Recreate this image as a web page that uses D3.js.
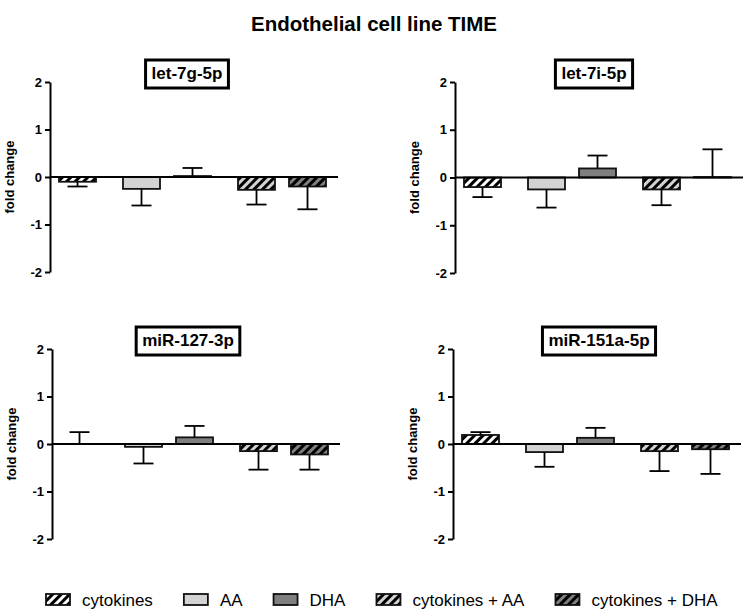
<html>
<head>
<meta charset="utf-8">
<style>
body { margin: 0; background: #fff; }
text { font-family: "Liberation Sans", Arial, sans-serif; }
.axis path, .axis line { stroke: #000; stroke-width: 2px; }
.axis text { font-size: 13px; font-weight: bold; fill: #000; }
</style>
</head>
<body>
<svg width="748" height="610"></svg>
<script src="https://d3js.org/d3.v7.min.js"></script>
<script>

// treatments and how they are grouped along the x axis
var treatments = ["cytokines", "AA", "DHA", "cytokines + AA", "cytokines + DHA"];
var groups = [["cytokines"], ["AA", "DHA"], ["cytokines + AA", "cytokines + DHA"]];
var mirnas = ["let-7g-5p", "let-7i-5p", "miR-127-3p", "miR-151a-5p"];
var yTicks = [-2, -1, 0, 1, 2];

// mean fold change and SEM, one value per treatment
var foldLet7g = [-0.10, -0.25, 0.02, -0.27, -0.20],
    semLet7g  = [0.10, 0.35, 0.17, 0.31, 0.48];
var foldLet7i = [-0.20, -0.25, 0.19, -0.25, 0.01],
    semLet7i  = [0.21, 0.38, 0.27, 0.33, 0.58];
var fold127 = [0.00, -0.06, 0.14, -0.15, -0.22],
    sem127  = [0.25, 0.35, 0.24, 0.39, 0.32];
var fold151a = [0.19, -0.17, 0.13, -0.15, -0.11],
    sem151a  = [0.06, 0.31, 0.21, 0.42, 0.52];

var folds = [foldLet7g, foldLet7i, fold127, fold151a],
    sems = [semLet7g, semLet7i, sem127, sem151a];

var fills = {
  "cytokines": "url(#hatchWhite)",
  "AA": "#d3d3d3",
  "DHA": "#7f7f7f",
  "cytokines + AA": "url(#hatchLight)",
  "cytokines + DHA": "url(#hatchDark)"
};

var svg = d3.select("svg");

// hatch patterns
var defs = svg.append("defs");
[["hatchWhite", "#fff"], ["hatchLight", "#d3d3d3"], ["hatchDark", "#7f7f7f"]].forEach(function(p) {
  var pat = defs.append("pattern")
      .attr("id", p[0])
      .attr("patternUnits", "userSpaceOnUse")
      .attr("width", 6).attr("height", 6)
      .attr("patternTransform", "rotate(45)");
  pat.append("rect").attr("width", 6).attr("height", 6).attr("fill", p[1]);
  pat.append("rect").attr("width", 3).attr("height", 6).attr("fill", "#000");
});

svg.append("text")
    .attr("x", 374).attr("y", 31)
    .attr("text-anchor", "middle")
    .style("font-size", "20.5px").style("font-weight", "bold")
    .text("Endothelial cell line TIME");

// panel placement
var panels = [
  {axisX: 50,  top: 82,  bottom: 272, titleX: 187},
  {axisX: 455, top: 82,  bottom: 273, titleX: 594},
  {axisX: 52,  top: 349, bottom: 539, titleX: 188},
  {axisX: 453, top: 349, bottom: 539, titleX: 599}
];

var groupOf = treatments.map(function(t) {
  return groups.findIndex(function(g) { return g.indexOf(t) >= 0; });
});
var gapFrac = 13 / 51;

panels.forEach(function(p, k) {
  var g = svg.append("g");

  var y = d3.scaleLinear().domain([-2, 2]).range([p.bottom, p.top]);
  var x = d3.scaleLinear().domain([0, 1]).range([p.axisX + 9, p.axisX + 60]);
  var bw = (x(1) - x(0)) * 37 / 51;
  var slot = function(i) { return x(i + groupOf[i] * gapFrac); };

  var data = treatments.map(function(t, i) {
    return {t: t, v: folds[k][i], e: sems[k][i], i: i};
  });

  // bars
  g.selectAll(".bar").data(data).enter().append("rect")
      .attr("class", "bar")
      .attr("x", function(d) { return slot(d.i); })
      .attr("width", bw)
      .attr("y", function(d) { return y(Math.max(0, d.v)); })
      .attr("height", function(d) { return Math.abs(y(d.v) - y(0)); })
      .attr("fill", function(d) { return fills[d.t]; })
      .attr("stroke", "#111")
      .attr("stroke-width", 1.8);

  // one-sided error bars
  var eb = g.selectAll(".err").data(data).enter().append("g").attr("class", "err")
      .attr("stroke", "#000").attr("stroke-width", 1.8);
  var tip = function(d) { return d.v >= 0 ? d.v + d.e : d.v - d.e; };
  eb.append("line")
      .attr("x1", function(d) { return slot(d.i) + bw / 2; })
      .attr("x2", function(d) { return slot(d.i) + bw / 2; })
      .attr("y1", function(d) { return y(d.v); })
      .attr("y2", function(d) { return y(tip(d)); });
  eb.append("line")
      .attr("x1", function(d) { return slot(d.i) + bw / 2 - 10; })
      .attr("x2", function(d) { return slot(d.i) + bw / 2 + 10; })
      .attr("y1", function(d) { return y(tip(d)); })
      .attr("y2", function(d) { return y(tip(d)); });

  // zero line
  g.append("line")
      .attr("x1", p.axisX).attr("x2", p.axisX + 288)
      .attr("y1", y(0)).attr("y2", y(0))
      .attr("stroke", "#000").attr("stroke-width", 2);

  g.append("g")
      .attr("class", "axis")
      .attr("transform", "translate(" + p.axisX + ",0)")
      .call(d3.axisLeft(y).tickValues(yTicks).tickSize(5).tickSizeOuter(0).tickPadding(3)
        .tickFormat(function(d) { return String(d); }));

  g.append("text")
      .attr("transform", "translate(" + (p.axisX - 36) + "," + y(0) + ") rotate(-90)")
      .attr("text-anchor", "middle")
      .style("font-size", "13px").style("font-weight", "bold")
      .text("fold change");

  // boxed panel title
  var box = g.append("rect");
  var tt = g.append("text")
      .attr("x", p.titleX).attr("y", p.top - 3)
      .attr("text-anchor", "middle")
      .style("font-size", "17px").style("font-weight", "bold")
      .text(mirnas[k]);
  var tw = tt.node().getComputedTextLength();
  box.attr("x", p.titleX - tw / 2 - 6).attr("y", p.top - 22)
      .attr("width", tw + 12).attr("height", 28)
      .attr("fill", "#fff").attr("stroke", "#000").attr("stroke-width", 3);
});

// legend
var lx = 46;
var legend = svg.append("g");
treatments.forEach(function(t) {
  legend.append("rect")
      .attr("x", lx).attr("y", 594)
      .attr("width", 24).attr("height", 11)
      .attr("fill", fills[t]).attr("stroke", "#111").attr("stroke-width", 1.8);
  var lt = legend.append("text")
      .attr("x", lx + 36).attr("y", 606)
      .style("font-size", "17px")
      .text(t);
  lx += 36 + lt.node().getComputedTextLength() + 31;
});

</script>
</body>
</html>
